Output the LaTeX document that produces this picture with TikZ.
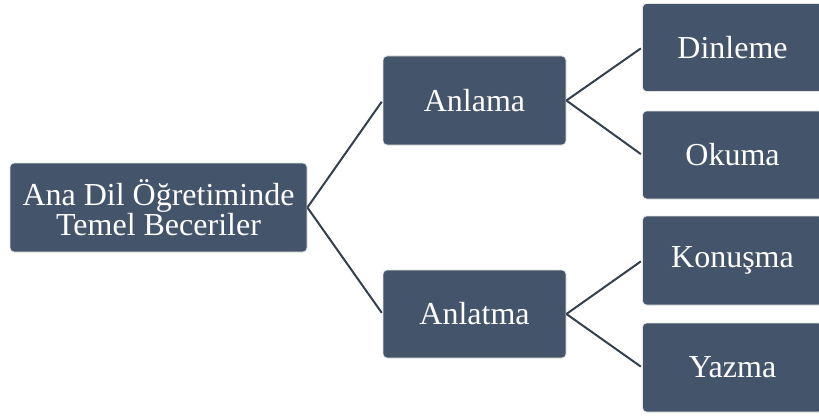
\documentclass[tikz,border=0pt]{standalone}
\usepackage{fontspec}
\setmainfont{Liberation Serif}
\definecolor{boxfill}{HTML}{44546A}
\definecolor{linecol}{HTML}{35404F}
\begin{document}
\begin{tikzpicture}[x=1pt,y=1pt,
  box/.style={rectangle, rounded corners=4pt, fill=boxfill, draw=black!10, line width=0.8pt,
    text=white, font=\fontsize{32}{30}\selectfont, align=center, inner sep=0pt},
  conn/.style={draw=linecol, line width=2pt, shorten >=1.5pt}]
\clip (0,0) rectangle (819,416);
\fill[white] (0,0) rectangle (819,416);
\node[box, minimum width=297pt, minimum height=89pt] (root) at (158.5,208.5) {Ana Dil Öğretiminde\\Temel Beceriler};
\node[box, minimum width=183pt, minimum height=89pt] (anlama) at (474.5,315.5) {Anlama};
\node[box, minimum width=183pt, minimum height=88pt] (anlatma) at (474.5,102) {Anlatma};
\node[box, minimum width=180pt, minimum height=88pt] (dinleme) at (732.5,368.5) {Dinleme};
\node[box, minimum width=180pt, minimum height=88pt] (okuma) at (732.5,261) {Okuma};
\node[box, minimum width=180pt, minimum height=89pt] (konusma) at (732.5,155.5) {Konuşma};
\node[box, minimum width=180pt, minimum height=89pt] (yazma) at (732.5,48.5) {Yazma};
\draw[conn] (root.east) -- (anlama.west);
\draw[conn] (root.east) -- (anlatma.west);
\draw[conn] (anlama.east) -- (dinleme.west);
\draw[conn] (anlama.east) -- (okuma.west);
\draw[conn] (anlatma.east) -- (konusma.west);
\draw[conn] (anlatma.east) -- (yazma.west);
\end{tikzpicture}
\end{document}
